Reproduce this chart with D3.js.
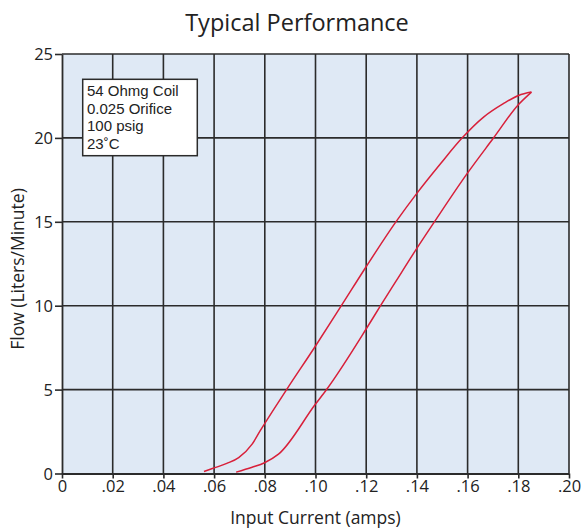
<!DOCTYPE html>
<html><head><meta charset="utf-8">
<script src="https://cdn.jsdelivr.net/npm/d3@7"></script>
<style>body{margin:0;background:#fff}svg{display:block}</style>
</head><body>
<svg id="c" width="582" height="529"></svg>
<script>
// ---- data ----
const xTickValues = [0, 0.02, 0.04, 0.06, 0.08, 0.10, 0.12, 0.14, 0.16, 0.18, 0.20];
const xTickLabels = ["0", ".02", ".04", ".06", ".08", ".10", ".12", ".14", ".16", ".18", ".20"];
const yTickValues = [0, 5, 10, 15, 20, 25];
const yTickLabels = ["0", "5", "10", "15", "20", "25"];

// decreasing-current branch (upper / left curve)
const downCurrent = [0.0560, 0.0596, 0.0650, 0.0697, 0.0750, 0.0782, 0.0886, 0.1000, 0.1102, 0.1201, 0.1315, 0.1399, 0.1493, 0.1578, 0.1663, 0.1741, 0.1801, 0.1852];
const downFlow    = [0.12,   0.31,   0.60,   0.95,   1.75,   2.55,   5.00,   7.60,   10.00,  12.35,  14.95,  16.68,  18.46,  19.99,  21.24,  22.04,  22.53,  22.73];
// increasing-current branch (lower / right curve)
const upCurrent = [0.0687, 0.0750, 0.0799, 0.0854, 0.1000, 0.1043, 0.1201, 0.1256, 0.1317, 0.1399, 0.1467, 0.1598, 0.1702, 0.1801, 0.1852];
const upFlow    = [0.08,   0.37,   0.64,   1.15,   4.14,   4.99,   8.64,   9.99,   11.45,  13.40,  14.95,  17.87,  19.99,  21.99,  22.73];

const noteLines = ["54 Ohmg Coil", "0.025 Orifice", "100 psig", "23\u02DAC"];
const title = "Typical Performance";
const xTitle = "Input Current (amps)";
const yTitle = "Flow (Liters/Minute)";

// ---- drawing ----
const FONT = "'Open Sans', Lato, sans-serif";
const NOTE_FONT = "'Liberation Sans', Arial, sans-serif";
const svg = d3.select("#c");
const L = 62, R = 569, T = 54, B = 473.5;
const x = d3.scaleLinear().domain([0, 0.20]).range([L, R]);
const y = d3.scaleLinear().domain([0, 25]).range([B, T]);

svg.append("rect").attr("x", L).attr("y", T).attr("width", R - L).attr("height", B - T).attr("fill", "#dfe9f5");

// grid
const grid = svg.append("g").attr("stroke", "#2b2b2b").attr("stroke-width", 1.6);
grid.selectAll("line.v").data(xTickValues.slice(1)).join("line")
  .attr("x1", d => x(d)).attr("x2", d => x(d)).attr("y1", T).attr("y2", B);
grid.selectAll("line.h").data(yTickValues.slice(1)).join("line")
  .attr("x1", L).attr("x2", R).attr("y1", d => y(d)).attr("y2", d => y(d));

// axes
const xAxis = d3.axisBottom(x).tickValues(xTickValues).tickFormat((d, i) => xTickLabels[i]).tickSize(5).tickSizeOuter(0);
const yAxis = d3.axisLeft(y).tickValues(yTickValues).tickFormat((d, i) => yTickLabels[i]).tickSize(7).tickSizeOuter(0);
const gx = svg.append("g").attr("transform", `translate(0,${B})`).call(xAxis);
const gy = svg.append("g").attr("transform", `translate(${L},0)`).call(yAxis);
[gx, gy].forEach(g => {
  g.selectAll("path.domain").attr("stroke", "#2b2b2b").attr("stroke-width", 1.8);
  g.selectAll(".tick line").attr("stroke", "#2b2b2b").attr("stroke-width", 1.6);
  g.selectAll(".tick text").attr("fill", "#222").attr("font-family", FONT).attr("font-size", 16.5);
});
gx.selectAll(".tick text").attr("dy", "0.95em").attr("y", 3);
gy.selectAll(".tick text").attr("x", -9).attr("dy", "0.35em");

// curves
const line = d3.line().x(d => x(d[0])).y(d => y(d[1])).curve(d3.curveMonotoneX);
const downPts = downCurrent.map((c, i) => [c, downFlow[i]]);
const upPts = upCurrent.map((c, i) => [c, upFlow[i]]);
svg.append("path").datum(downPts).attr("d", line).attr("fill", "none").attr("stroke", "#d8203a").attr("stroke-width", 1.5);
svg.append("path").datum(upPts).attr("d", line).attr("fill", "none").attr("stroke", "#d8203a").attr("stroke-width", 1.5);

// note box
svg.append("rect").attr("x", 82.7).attr("y", 79.3).attr("width", 114.6).attr("height", 76.4)
  .attr("fill", "#fff").attr("stroke", "#2b2b2b").attr("stroke-width", 1.5);
svg.append("g").selectAll("text").data(noteLines).join("text")
  .attr("x", 87).attr("y", (d, i) => 96 + i * 17.5)
  .attr("font-family", NOTE_FONT).attr("font-size", 15).attr("fill", "#222").text(d => d);

// titles
svg.append("text").attr("x", 297).attr("y", 31).attr("text-anchor", "middle")
  .attr("font-family", FONT).attr("font-size", 23.5).attr("fill", "#222").text(title);
svg.append("text").attr("x", (L + R) / 2).attr("y", 524).attr("text-anchor", "middle")
  .attr("font-family", FONT).attr("font-size", 17.5).attr("fill", "#222").text(xTitle);
svg.append("text").attr("transform", `translate(24,269) rotate(-90)`).attr("text-anchor", "middle")
  .attr("font-family", FONT).attr("font-size", 17.5).attr("fill", "#222").text(yTitle);
</script>
</body></html>
